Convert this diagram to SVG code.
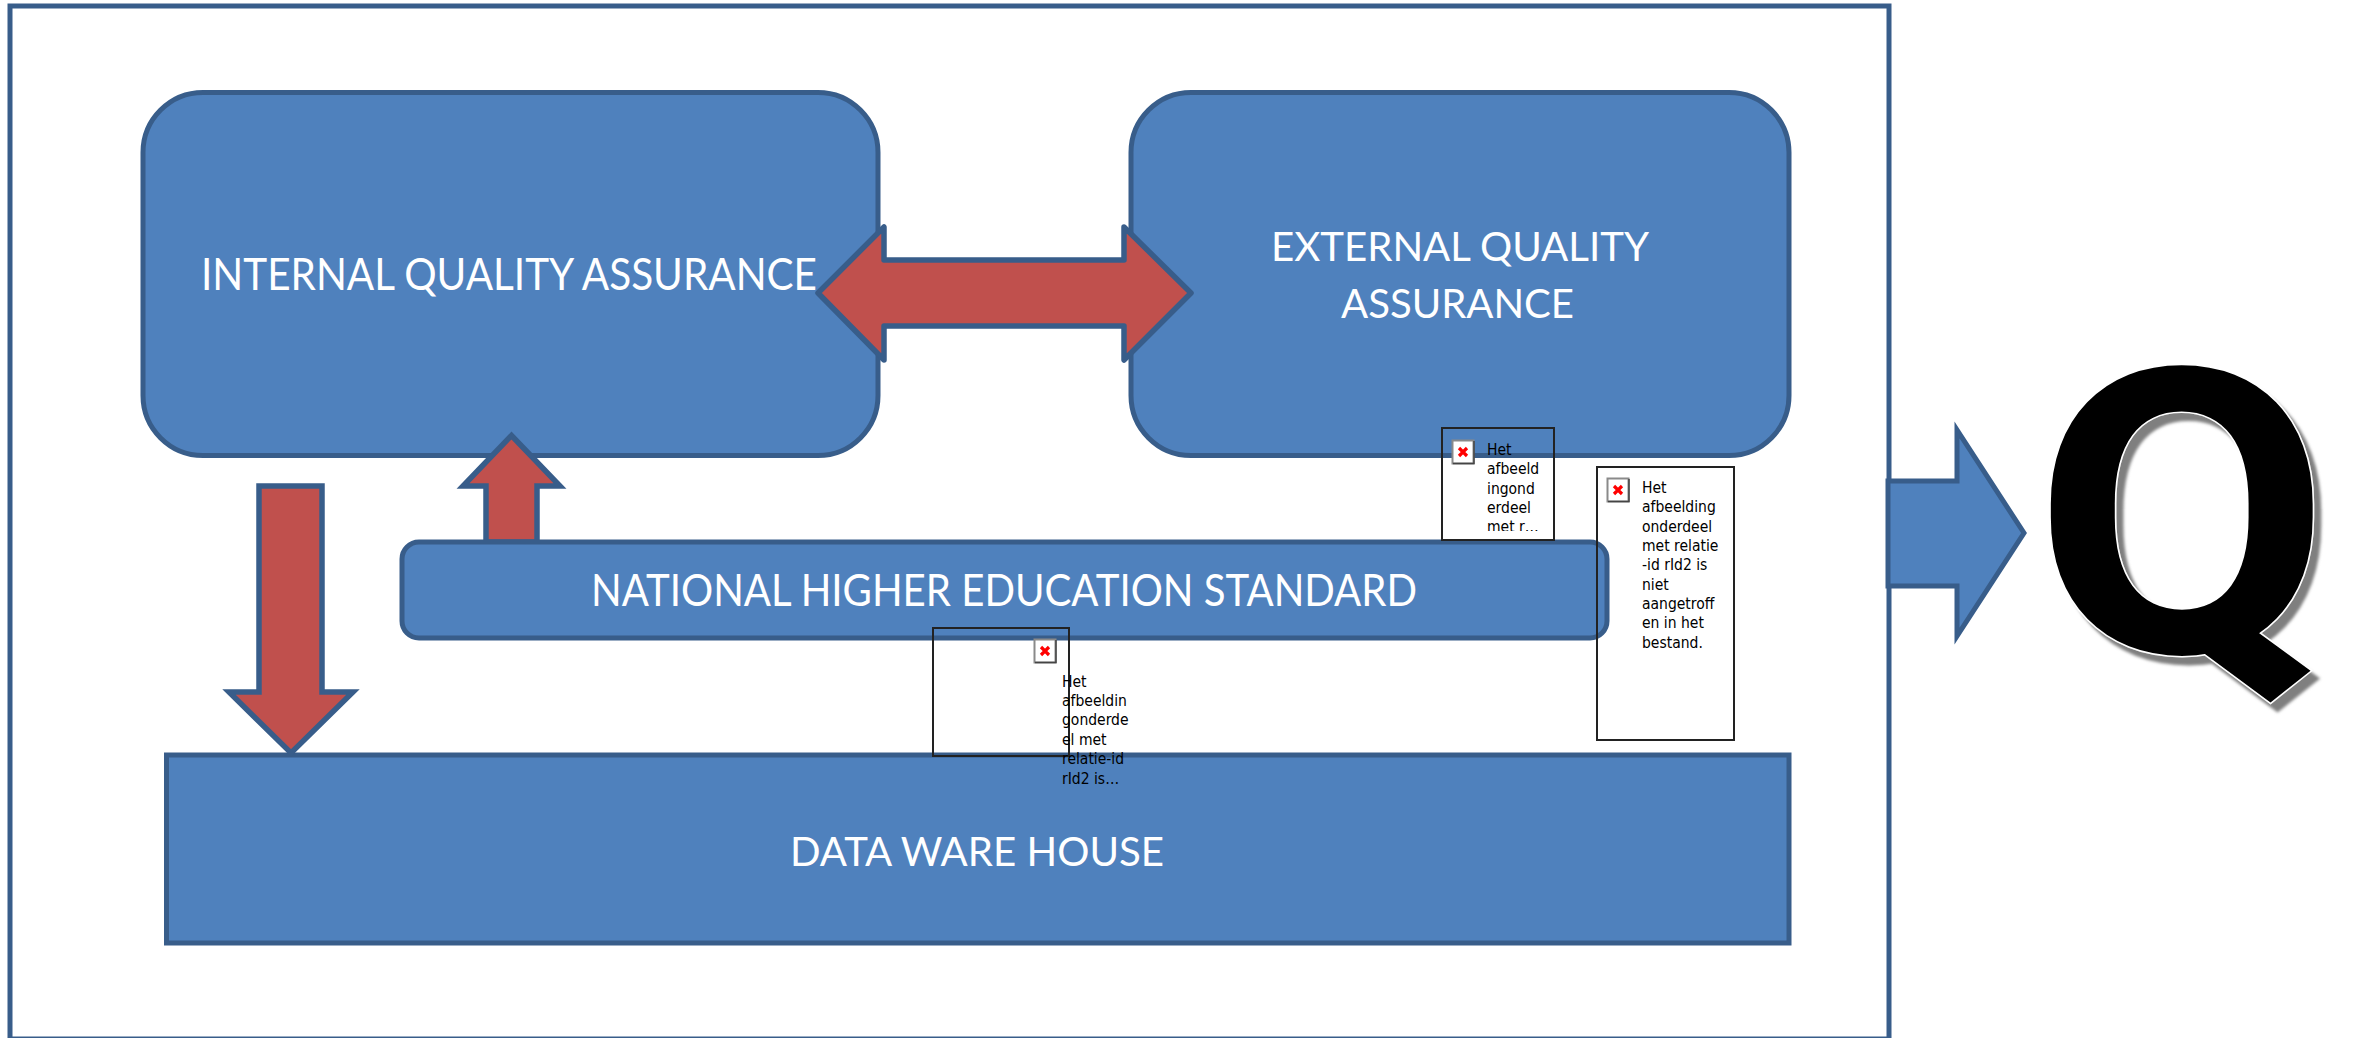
<svg xmlns="http://www.w3.org/2000/svg" xmlns:xlink="http://www.w3.org/1999/xlink" width="2364" height="1038" viewBox="0 0 2364 1038">
<style>
.box{fill:#4F81BD;stroke:#385D8A;stroke-width:5}
.red{fill:#C0504D;stroke:#385D8A;stroke-width:5.5}
.lab{font-family:"Lato","Liberation Sans",sans-serif;font-size:41px;fill:#fff}
.tall{font-size:44px}
.ph{fill:none;stroke:#222;stroke-width:2}
.cap{font-family:"DejaVu Sans Condensed","DejaVu Sans",sans-serif;font-size:15.5px;fill:#000}
</style>
<defs>
<g id="icon">
<rect x="0.5" y="0.5" width="21" height="23" fill="#fff" stroke="#8a8a8a" stroke-width="2"/>
<path d="M1 23.5H22V1" fill="none" stroke="#444" stroke-width="1.5"/>
<path d="M7 8L15 16M15 8L7 16" stroke="#ff0000" stroke-width="3.2" fill="none"/>
</g>
<clipPath id="c1"><rect x="1443" y="429" width="110" height="102"/></clipPath>
<filter id="sh" x="-10%" y="-10%" width="125%" height="125%"><feDropShadow dx="6.5" dy="8" stdDeviation="1.5" flood-color="#7f7f7f" flood-opacity="1"/></filter>
</defs>
<rect width="2364" height="1038" fill="#fff"/>
<g id="frame"><rect x="10" y="6" width="1879" height="1033" fill="#fff" stroke="#385D8A" stroke-width="5"/></g>
<g id="internal"><rect class="box" x="143" y="92.5" width="735" height="363" rx="60"/>
<text class="lab tall" x="201" y="290" textLength="616" lengthAdjust="spacingAndGlyphs">INTERNAL QUALITY ASSURANCE</text></g>
<g id="external"><rect class="box" x="1131" y="92.5" width="658" height="363" rx="60"/>
<text class="lab" x="1271" y="261" textLength="378" lengthAdjust="spacingAndGlyphs">EXTERNAL QUALITY</text>
<text class="lab" x="1341" y="318" textLength="233" lengthAdjust="spacingAndGlyphs">ASSURANCE</text></g>
<g id="dwh"><rect class="box" x="166.5" y="755" width="1622.5" height="188"/>
<text class="lab" x="790" y="866" textLength="374" lengthAdjust="spacingAndGlyphs">DATA WARE HOUSE</text></g>
<g id="connectors">
<path class="red" d="M486 542V486H463L511.5 435.5L560 486H537V542Z"/>
<path class="red" d="M259 486H322V692H353L291 753L229 692H259Z"/>
<path class="red" stroke-linejoin="round" d="M818 293L884 227V260H1124V227L1191 293L1124 360V326H884V360Z"/>
<path class="box" d="M1888 481H1957V430L2024 533L1957 636V586H1888Z"/>
</g>
<g id="national"><rect class="box" x="402" y="542" width="1205" height="96" rx="17"/>
<text class="lab tall" x="591" y="606" textLength="826" lengthAdjust="spacingAndGlyphs">NATIONAL HIGHER EDUCATION STANDARD</text></g>
<g id="placeholder-1"><rect class="ph" x="1442" y="428" width="112" height="112"/>
<use xlink:href="#icon" href="#icon" x="1452" y="440"/>
<text class="cap" clip-path="url(#c1)"><tspan x="1487" y="455">Het</tspan><tspan x="1487" y="474">afbeeld</tspan><tspan x="1487" y="494">ingond</tspan><tspan x="1487" y="513">erdeel</tspan><tspan x="1487" y="532">met r…</tspan></text></g>
<g id="placeholder-2"><rect class="ph" x="1597" y="467" width="137" height="273"/>
<use xlink:href="#icon" href="#icon" x="1607" y="478"/>
<text class="cap"><tspan x="1642" y="493">Het</tspan><tspan x="1642" y="512">afbeelding</tspan><tspan x="1642" y="532">onderdeel</tspan><tspan x="1642" y="551">met relatie</tspan><tspan x="1642" y="570">-id rId2 is</tspan><tspan x="1642" y="590">niet</tspan><tspan x="1642" y="609">aangetroff</tspan><tspan x="1642" y="628">en in het</tspan><tspan x="1642" y="648">bestand.</tspan></text></g>
<g id="placeholder-3"><rect class="ph" x="933" y="628" width="136" height="128"/>
<use xlink:href="#icon" href="#icon" x="1034" y="639"/>
<text class="cap"><tspan x="1062" y="687">Het</tspan><tspan x="1062" y="706">afbeeldin</tspan><tspan x="1062" y="725">gonderde</tspan><tspan x="1062" y="745">el met</tspan><tspan x="1062" y="764">relatie-id</tspan><tspan x="1062" y="784">rId2 is…</tspan></text></g>
<g id="q"><text transform="translate(2033 652) scale(1.086 1)" font-family="Roboto, Open Sans, sans-serif" font-weight="700" font-size="398" fill="#000" stroke="#fff" stroke-width="3" paint-order="stroke" filter="url(#sh)">Q</text></g>
</svg>
